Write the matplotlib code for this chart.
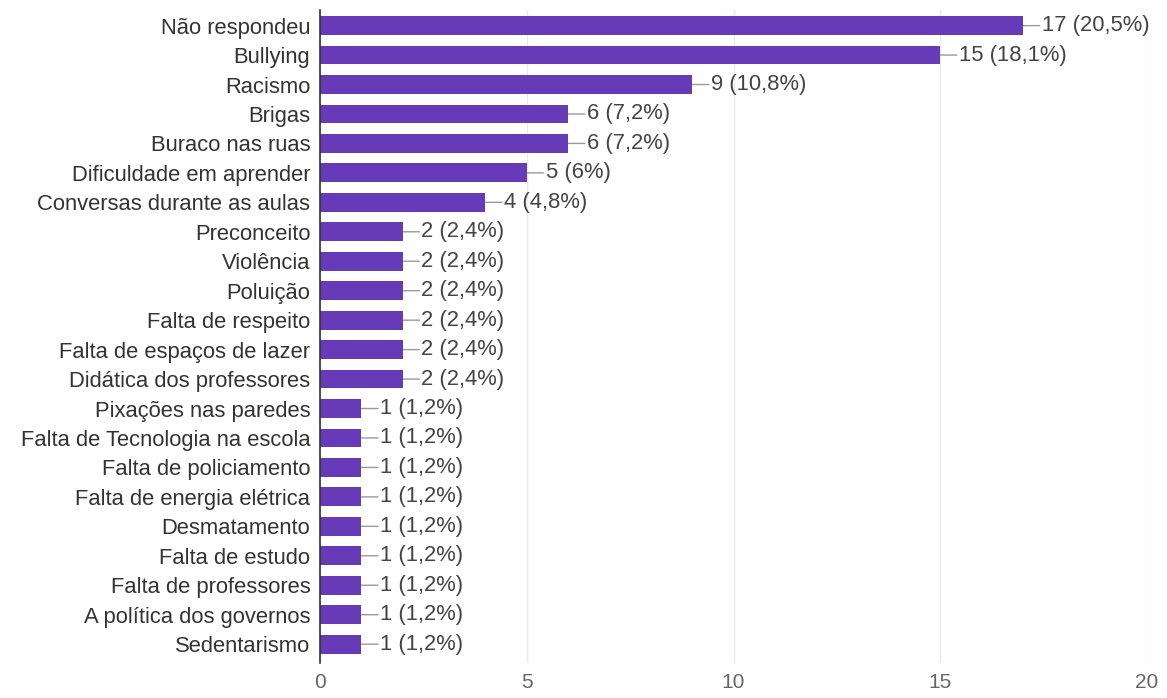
import matplotlib
matplotlib.use("Agg")
import matplotlib.pyplot as plt

categories = [
    "Não respondeu", "Bullying", "Racismo", "Brigas", "Buraco nas ruas",
    "Dificuldade em aprender", "Conversas durante as aulas", "Preconceito",
    "Violência", "Poluição", "Falta de respeito", "Falta de espaços de lazer",
    "Didática dos professores", "Pixações nas paredes",
    "Falta de Tecnologia na escola", "Falta de policiamento",
    "Falta de energia elétrica", "Desmatamento", "Falta de estudo",
    "Falta de professores", "A política dos governos", "Sedentarismo",
]
values = [17, 15, 9, 6, 6, 5, 4, 2, 2, 2, 2, 2, 2, 1, 1, 1, 1, 1, 1, 1, 1, 1]
percents = ["20,5%", "18,1%", "10,8%", "7,2%", "7,2%", "6%", "4,8%",
            "2,4%", "2,4%", "2,4%", "2,4%", "2,4%", "2,4%",
            "1,2%", "1,2%", "1,2%", "1,2%", "1,2%", "1,2%", "1,2%", "1,2%", "1,2%"]
xticks = [0, 5, 10, 15, 20]

plt.rcParams['font.family'] = ['Liberation Sans', 'DejaVu Sans']
FS = 15.8

fig = plt.figure(figsize=(11.67, 6.98), dpi=100)
ax = fig.add_axes([320/1167, 1-663/698, (1147-320)/1167, (663-10)/698])

n = len(categories)
ypos = list(range(n))
ax.barh(ypos, values, height=0.64, color="#673ab7", zorder=3)

for y, v, p in zip(ypos, values, percents):
    ax.annotate("", xy=(v, y), xytext=(12, 0), textcoords="offset points",
                arrowprops=dict(arrowstyle="-", color="#999999", lw=1,
                                shrinkA=0, shrinkB=0), zorder=2)
    ax.annotate(f"{v} ({p})", xy=(v, y), xytext=(13.5, 0), textcoords="offset points",
                va="center", ha="left", fontsize=FS, color="#444444")

ax.set_xlim(0, 20)
ax.set_ylim(n - 1 + 0.64, -0.53)
ax.set_xticks(xticks)
ax.set_xticklabels([str(t) for t in xticks], fontsize=15, color="#666666")
ax.set_yticks(ypos)
ax.set_yticklabels(categories, fontsize=FS, color="#333333")
ax.tick_params(axis="both", length=0)
ax.tick_params(axis="x", pad=7)
ax.tick_params(axis="y", pad=7)
ax.grid(axis="x", color="#ebebeb", lw=1, zorder=0)
for s in ["top", "right", "bottom"]:
    ax.spines[s].set_visible(False)
ax.spines["left"].set_color("#333333")
ax.spines["left"].set_linewidth(1.2)
ax.spines["left"].set_zorder(4)

fig.savefig("out.png", dpi=100)
